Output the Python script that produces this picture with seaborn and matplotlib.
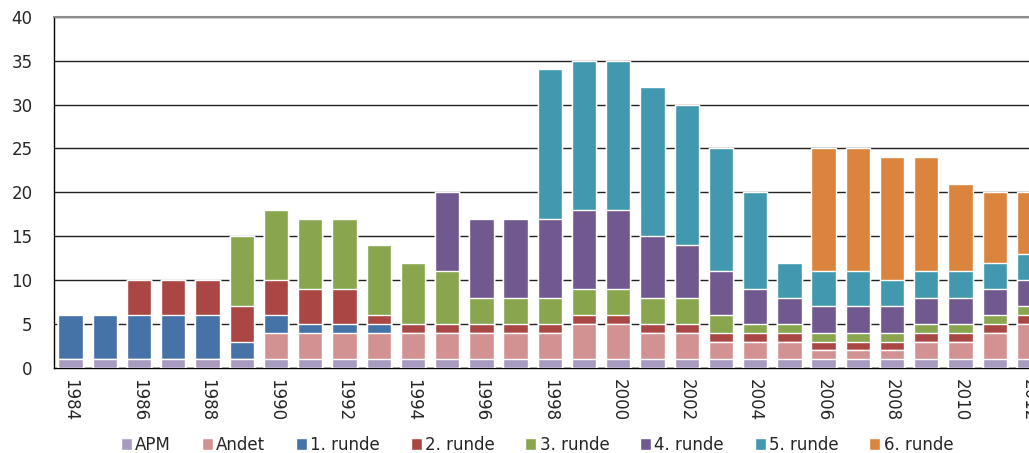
import numpy as np
import pandas as pd
import matplotlib.pyplot as plt
import seaborn as sns
from matplotlib.patches import Patch

# data, 1984-2012
years = list(range(1984, 2013))
apm = [1] * 29
andet = [0, 0, 0, 0, 0, 0, 3, 3, 3, 3, 3, 3, 3, 3, 3, 4, 4, 3, 3, 2, 2, 2, 1, 1, 1, 2, 2, 3, 4]
runde1 = [5, 5, 5, 5, 5, 2, 2, 1, 1, 1, 0, 0, 0, 0, 0, 0, 0, 0, 0, 0, 0, 0, 0, 0, 0, 0, 0, 0, 0]
runde2 = [0, 0, 4, 4, 4, 4, 4, 4, 4, 1, 1, 1, 1, 1, 1, 1, 1, 1, 1, 1, 1, 1, 1, 1, 1, 1, 1, 1, 1]
runde3 = [0, 0, 0, 0, 0, 8, 8, 8, 8, 8, 7, 6, 3, 3, 3, 3, 3, 3, 3, 2, 1, 1, 1, 1, 1, 1, 1, 1, 1]
runde4 = [0, 0, 0, 0, 0, 0, 0, 0, 0, 0, 0, 9, 9, 9, 9, 9, 9, 7, 6, 5, 4, 3, 3, 3, 3, 3, 3, 3, 3]
runde5 = [0, 0, 0, 0, 0, 0, 0, 0, 0, 0, 0, 0, 0, 0, 17, 17, 17, 17, 16, 14, 11, 4, 4, 4, 3, 3, 3, 3, 3]
runde6 = [0, 0, 0, 0, 0, 0, 0, 0, 0, 0, 0, 0, 0, 0, 0, 0, 0, 0, 0, 0, 0, 0, 14, 14, 14, 13, 10, 8, 7]

series = ['APM', 'Andet', '1. runde', '2. runde', '3. runde', '4. runde', '5. runde', '6. runde']
colors = ['#A99BBF', '#D39292', '#4572A7', '#AA4643', '#89A54E', '#71588F', '#4198AF', '#DB843D']

df = pd.DataFrame({'year': years, 'APM': apm, 'Andet': andet, '1. runde': runde1,
                   '2. runde': runde2, '3. runde': runde3, '4. runde': runde4,
                   '5. runde': runde5, '6. runde': runde6})
cum = df[series].cumsum(axis=1)

sns.set_style('white')
plt.rcParams['font.family'] = ['DejaVu Sans']

fig = plt.figure(figsize=(10.29, 4.53), dpi=100)
ax = fig.add_axes([0.052, 0.188, 0.948, 0.775])

# stacked bars: draw cumulative totals from the top series down
for name, col in reversed(list(zip(series, colors))):
    sns.barplot(x=df['year'].astype(str), y=cum[name], color=col, width=0.71,
                saturation=1, ax=ax, zorder=3)

ax.set_ylim(0, 40)
ax.set_yticks(range(0, 41, 5))
ax.set_xlim(-0.5, 28.0)
ax.yaxis.grid(True, color='#222222', linewidth=1, zorder=0)
ax.set_axisbelow(True)
ax.set_xlabel('')
ax.set_ylabel('')

ax.spines['right'].set_visible(False)
ax.spines['top'].set_color('#8c8c8c')
ax.spines['top'].set_linewidth(1.5)
for s in ['left', 'bottom']:
    ax.spines[s].set_color('black')
    ax.spines[s].set_linewidth(1)

ax.set_xticks(range(0, 29, 2))
ax.set_xticklabels([str(y) for y in years[::2]], rotation=-90, fontsize=12)
ax.set_xticks(np.arange(-0.5, 28.5, 1), minor=True)
ax.tick_params(axis='x', which='major', length=0, pad=8)
ax.tick_params(axis='x', which='minor', length=5, width=1, color='black', direction='out')
ax.tick_params(axis='y', length=5, width=1, color='black', direction='out', labelsize=12, pad=10)

handles = [Patch(facecolor=c, label=n) for n, c in zip(series, colors)]
fig.legend(handles=handles, loc='lower center', bbox_to_anchor=(0.522, -0.035), ncol=8,
           frameon=False, fontsize=12, handlelength=0.65, handleheight=0.65,
           handletextpad=0.2, columnspacing=1.85)

fig.savefig('out.png', dpi=100)
